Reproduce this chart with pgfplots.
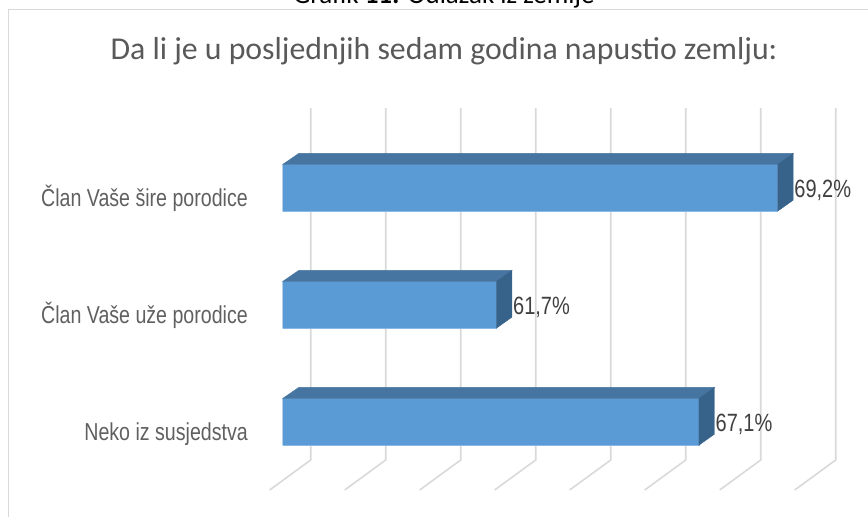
\documentclass[border=0pt]{standalone}
\usepackage{pgfplots}
\pgfplotsset{compat=1.18}
\usepackage{pgfplotstable}
\usepackage{fontspec}
\setmainfont{Carlito}
\newfontfamily\condfont[FakeStretch=0.8]{Liberation Sans}
\definecolor{frontc}{HTML}{5B9BD5}
\definecolor{frontedge}{HTML}{8AB8E6}
\definecolor{topf}{HTML}{4575A0}
\definecolor{sidef}{HTML}{37628A}
\definecolor{gridc}{HTML}{D9D9D9}
\definecolor{titlec}{HTML}{595959}
\definecolor{catc}{HTML}{606060}
\definecolor{labc}{HTML}{404040}

\pgfplotstableread{
cat val
0 67.1
1 61.7
2 69.2
}\data

\pgfplotsset{geom/.style={at={(282.7pt,36.7pt)}, anchor=south west, scale only axis,
  width=525pt, height=351pt, xmin=56, xmax=70, ymin=-0.5, ymax=2.5}}

\begin{document}
\begin{tikzpicture}
\useasboundingbox (0pt,0pt) rectangle (868pt,517pt);
\clip (0pt,0pt) rectangle (868pt,517pt);
\draw[gridc, line width=1.3pt] (8.7pt,-5pt) -- (8.7pt,507.7pt) -- (880pt,507.7pt);
\node[anchor=base, inner sep=0pt, font=\fontsize{27}{30}\selectfont, text=black] at (444pt,513.5pt) {Grafik \textbf{11:} Odlazak iz zemlje};
\node[anchor=base, inner sep=0pt, font=\fontsize{31.8}{36}\selectfont, text=titlec] at (444pt,457pt) {Da li je u posljednjih sedam godina napustio zemlju:};

\begin{axis}[geom, clip=false, axis line style={draw=none}, xtick=\empty,
  ytick={0,1,2}, major tick length=0pt,
  yticklabels={Neko iz susjedstva, Član Vaše uže porodice, Član Vaše šire porodice},
  yticklabel style={anchor=base east, inner sep=0pt, xshift=-34.7pt, yshift=-18.5pt,
    font=\condfont\fontsize{24.5}{28}\selectfont, text=catc}]
\addplot[gridc, line width=1.6pt] coordinates {(56.747,2.682) (56.747,-0.3265) (55.653,-0.5829)};
\addplot[gridc, line width=1.6pt] coordinates {(58.747,2.682) (58.747,-0.3265) (57.653,-0.5829)};
\addplot[gridc, line width=1.6pt] coordinates {(60.747,2.682) (60.747,-0.3265) (59.653,-0.5829)};
\addplot[gridc, line width=1.6pt] coordinates {(62.747,2.682) (62.747,-0.3265) (61.653,-0.5829)};
\addplot[gridc, line width=1.6pt] coordinates {(64.747,2.682) (64.747,-0.3265) (63.653,-0.5829)};
\addplot[gridc, line width=1.6pt] coordinates {(66.747,2.682) (66.747,-0.3265) (65.653,-0.5829)};
\addplot[gridc, line width=1.6pt] coordinates {(68.747,2.682) (68.747,-0.3265) (67.653,-0.5829)};
\addplot[gridc, line width=1.6pt] coordinates {(70.747,2.682) (70.747,-0.3265) (69.653,-0.5829)};
\end{axis}

\begin{axis}[geom, hide axis]
\addplot[xbar, bar shift=0pt, bar width=46.7pt, fill=frontc, draw=frontedge, line width=0.6pt]
  table[x=val, y=cat]{\data};
\addplot[only marks, mark=*, mark size=0pt, scatter,
  visualization depends on={\thisrow{val} \as \vv},
  scatter/@pre marker code/.code={%
    \pgfmathsetmacro\lena{-(\vv-56)*37.5}%
    \pgfmathsetmacro\lenb{\lena+16}%
    \fill[topf] (\lena pt,23.35pt) -- (0pt,23.35pt) -- (15.5pt,34.35pt) -- (\lenb pt,34.35pt) -- cycle;
    \fill[sidef] (0pt,-23.35pt) -- (15.5pt,-12.35pt) -- (15.5pt,34.35pt) -- (0pt,23.35pt) -- cycle;
  },
  scatter/@post marker code/.code={}]
  table[x=val, y=cat]{\data};
\end{axis}

\begin{axis}[geom, hide axis, clip=false]
\addplot[draw=none, point meta=x,
  nodes near coords={\pgfmathprintnumber[fixed, precision=1, fixed zerofill, use comma, assume math mode=true]{\pgfplotspointmeta}\%},
  every node near coord/.append style={anchor=base west, inner sep=0pt, xshift=16.5pt, yshift=-9.3pt,
    font=\condfont\fontsize{25}{28}\selectfont, text=labc}]
  table[x=val, y=cat]{\data};
\end{axis}
\end{tikzpicture}
\end{document}
